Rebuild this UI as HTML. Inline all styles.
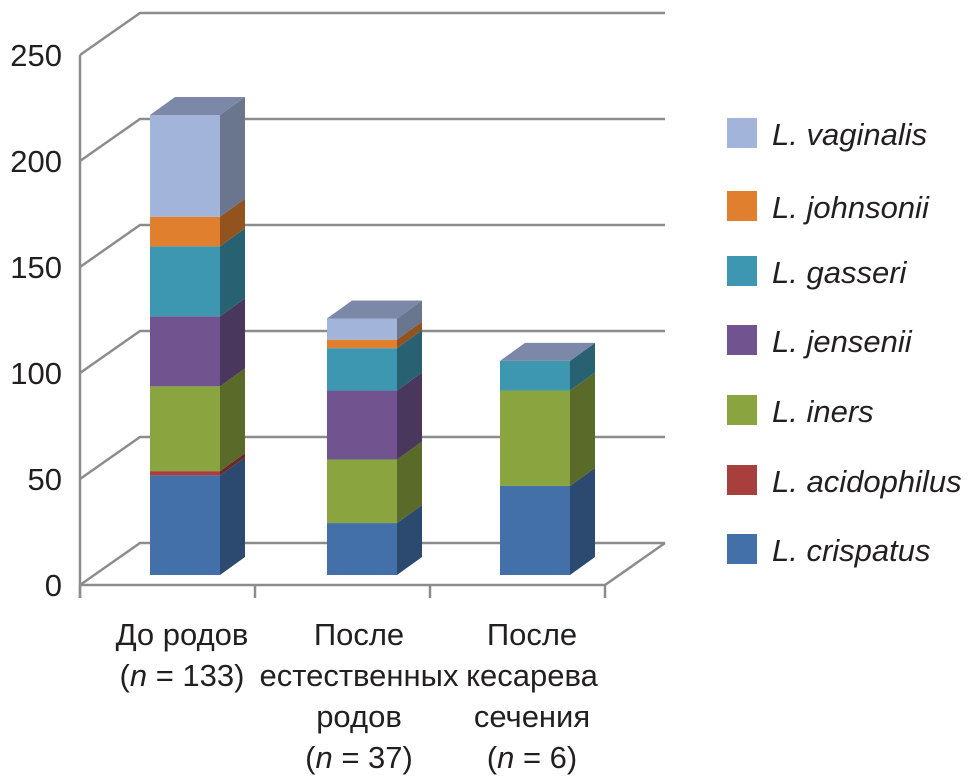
<!DOCTYPE html>
<html><head><meta charset="utf-8"><style>
body{margin:0;background:#fff;}
svg text{font-family:"Liberation Sans Narrow","Liberation Sans",sans-serif;font-size:31px;fill:#231f20;}
</style></head><body>
<svg id="c" width="978" height="778"></svg>
<script>
const categories=[["До родов","(n = 133)"],["После","естественных","родов","(n = 37)"],["После","кесарева","сечения","(n = 6)"]];
const seriesNames=["L. crispatus","L. acidophilus","L. iners","L. jensenii","L. gasseri","L. johnsonii","L. vaginalis"];
const crispatus=[47,24.5,42];
const acidophilus=[2,0,0];
const iners=[40,30,45];
const jensenii=[33,32.5,0];
const gasseri=[33,20,14];
const johnsonii=[14,4,0];
const vaginalis=[48,10,0];
const yTicks=[0,50,100,150,200,250];
const colors=["#4470aa","#a83f3c","#8aa43f","#71548f","#3d97b0","#e0802f","#a3b4da"];
const series=[crispatus,acidophilus,iners,jensenii,gasseri,johnsonii,vaginalis];
const NS="http://www.w3.org/2000/svg";
const svg=document.getElementById('c');
function el(t,a){const e=document.createElementNS(NS,t);for(const k in a)e.setAttribute(k,a[k]);svg.appendChild(e);return e;}
function shade(h,f){const n=parseInt(h.slice(1),16);let r=n>>16,g=n>>8&255,b=n&255;return `rgb(${Math.round(r*f)},${Math.round(g*f)},${Math.round(b*f)})`;}
const k=2.12;
const yBack=v=>543-v*k, yFront=v=>585-v*k, yBar=v=>575-v*k;
const grid="#8c8c8c";
yTicks.forEach(v=>{
 let l=el('polyline',{points:`80,${yFront(v)} 140,${yBack(v)} 665,${yBack(v)}`,fill:'none',stroke:grid,'stroke-width':2.5});
 
 let t=el('text',{x:62,y:yFront(v)+11,'text-anchor':'end','font-size':33});t.textContent=v;
 
});
let fl=el('polyline',{points:`80,585 605,585 665,543`,fill:'none',stroke:grid,'stroke-width':2.5});

let ax=el('line',{x1:80,y1:yFront(250),x2:80,y2:598,stroke:grid,'stroke-width':2.5});

[80,255,430,605].forEach(x=>{let t=el('line',{x1:x,y1:585,x2:x,y2:598,stroke:grid,'stroke-width':2.5});});
const barX=[150,327,500],bw=70,dx=25,dy=-18;
categories.forEach((cat,i)=>{
 let base=0;const x=barX[i];
 series.forEach((s,j)=>{
  const v=s[i];if(v<=0)return;
  const y0=yBar(base),y1=yBar(base+v);
  let f=el('rect',{x:x,y:y1,width:bw,height:y0-y1,fill:colors[j]});
  
  let sd=el('polygon',{points:`${x+bw},${y0} ${x+bw+dx},${y0+dy} ${x+bw+dx},${y1+dy} ${x+bw},${y1}`,fill:shade(colors[j],0.65)});
  
  base+=v;
 });
 const yt=yBar(base);
 let tp=el('polygon',{points:`${x},${yt} ${x+dx},${yt+dy} ${x+bw+dx},${yt+dy} ${x+bw},${yt}`,fill:'#7b88a8'});
 
 const cx=x+bw/2+5;
 cat.forEach((line,l)=>{
  let t=el('text',{x:cx-8,y:645+l*41,'text-anchor':'middle','font-size':32});
  if(line.indexOf('n =')>=0){t.innerHTML='(<tspan font-style="italic">n</tspan>'+line.slice(2);}else t.textContent=line;
  
 });
});
const legY=[549,480,410,340,271,206,133];
seriesNames.forEach((n,j)=>{
 let r=el('rect',{x:727,y:legY[j]-15,width:30,height:30,fill:colors[j]});
 
 let t=el('text',{x:772,y:legY[j]+12,'font-style':'italic','font-size':33});t.textContent=n;
 
});
</script>
</body></html>
